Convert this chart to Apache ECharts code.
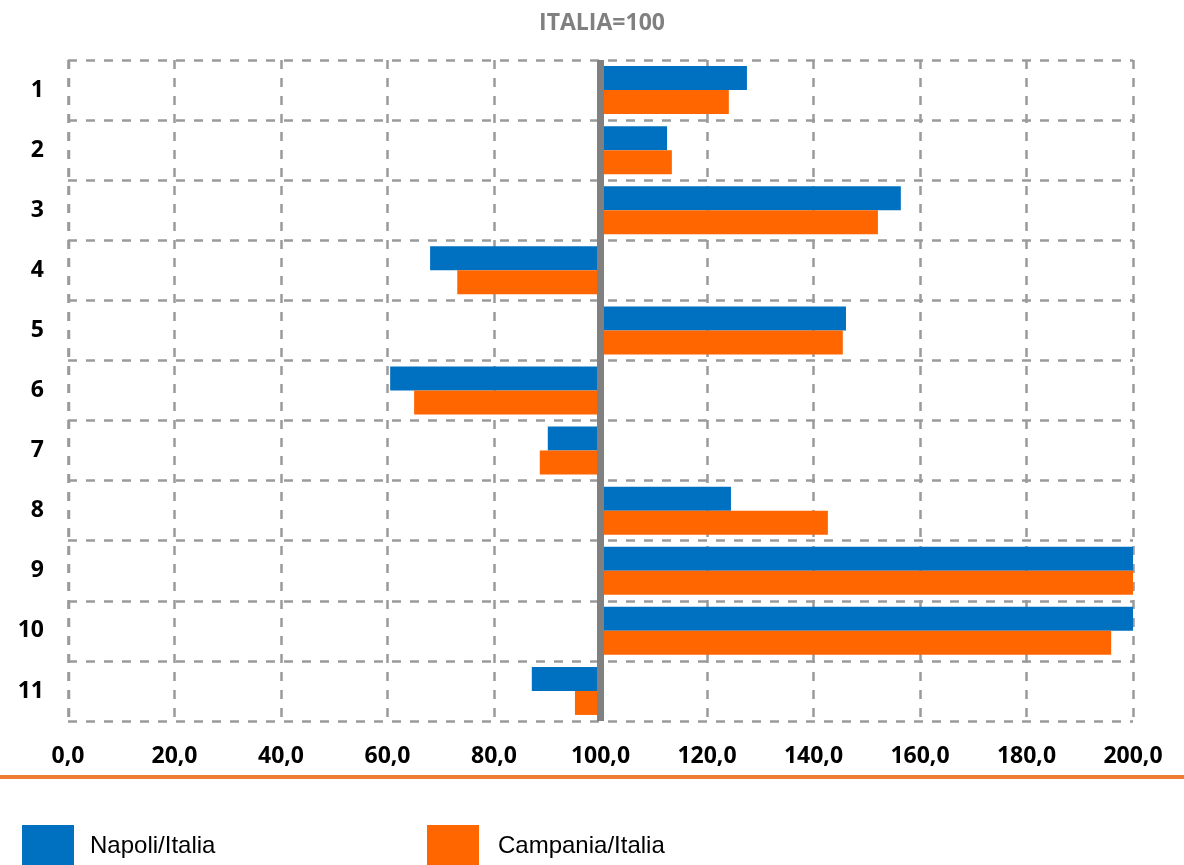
<!DOCTYPE html>
<html>
<head>
<meta charset="utf-8">
<script src="https://cdn.jsdelivr.net/npm/echarts@6/dist/echarts.min.js"></script>
<style>html,body{margin:0;padding:0;background:#fff;}#c{width:1184px;height:865px;}</style>
</head>
<body>
<div id="c"></div>
<script>
const categories = ['1','2','3','4','5','6','7','8','9','10','11'];
const napoli   = [127.5,112.5,156.4,68.0,146.1,60.5,90.1,124.5,200.0,200.0,87.1];
const campania = [124.1,113.4,152.1,73.1,145.5,65.0,88.6,142.7,200.0,195.9,95.2];
const baseValue = 100;
const seriesNames = ['Napoli/Italia','Campania/Italia'];
const colors = ['#0070C0','#FF6600'];

const chart = echarts.init(document.getElementById('c'));
const shift = arr => arr.map(v => +(v - baseValue).toFixed(2));
const fmt = v => (v + baseValue).toFixed(1).replace('.', ',');
const font = '"Open Sans", "DejaVu Sans", sans-serif';
const legendFont = '"Liberation Sans Narrow", "Arial Narrow", "Liberation Sans", Arial, sans-serif';
const gridLine = { color: '#9A9A9A', width: 2.5, type: [9, 9] };

chart.setOption({
  animation: false,
  title: {
    text: 'ITALIA=100', left: 597, top: 7, textAlign: 'center',
    textStyle: { color: '#808080', fontSize: 23, fontWeight: 'bold', fontFamily: font }
  },
  grid: { left: 68, right: 51, top: 60, bottom: 144, containLabel: false },
  legend: [
    { data: [seriesNames[0]], left: 22, top: 825, padding: 0, itemWidth: 52, itemHeight: 42, icon: 'rect',
      textStyle: { color: '#000', fontSize: 24, fontFamily: legendFont, padding: [3,0,0,11] } },
    { data: [seriesNames[1]], left: 427, top: 825, padding: 0, itemWidth: 52, itemHeight: 42, icon: 'rect',
      textStyle: { color: '#000', fontSize: 24, fontFamily: legendFont, padding: [3,0,0,14] } }
  ],
  xAxis: {
    type: 'value', min: -100, max: 100, interval: 20,
    axisLine: { show: false }, axisTick: { show: false },
    axisLabel: { formatter: fmt, color: '#000', fontSize: 23, fontWeight: 'bold', fontFamily: font, margin: 24 },
    splitLine: { show: true, lineStyle: gridLine }
  },
  yAxis: {
    type: 'category', data: categories, inverse: true,
    axisLine: { show: false }, axisTick: { show: false },
    axisLabel: { color: '#000', fontSize: 23, fontWeight: 'bold', fontFamily: font, margin: 24 },
    splitLine: { show: true, lineStyle: gridLine }
  },
  graphic: [
    { type: 'line', shape: { x1: 0, y1: 777, x2: 1184, y2: 777 }, style: { stroke: '#ED7D31', lineWidth: 4 } },
    { type: 'line', shape: { x1: 69, y1: 60, x2: 69, y2: 721 }, style: { stroke: '#9A9A9A', lineWidth: 2.5, lineDash: [9, 9] } }
  ],
  series: [
    { name: seriesNames[0], type: 'bar', data: shift(napoli), barWidth: 24, barGap: '0%',
      itemStyle: { color: colors[0] },
      markLine: { silent: true, symbol: ['none','none'], label: { show: false },
        lineStyle: { color: '#808080', width: 7, type: 'solid' }, data: [{ xAxis: 0 }] } },
    { name: seriesNames[1], type: 'bar', data: shift(campania), barWidth: 24, barGap: '0%',
      itemStyle: { color: colors[1] } }
  ]
});
</script>
</body>
</html>
